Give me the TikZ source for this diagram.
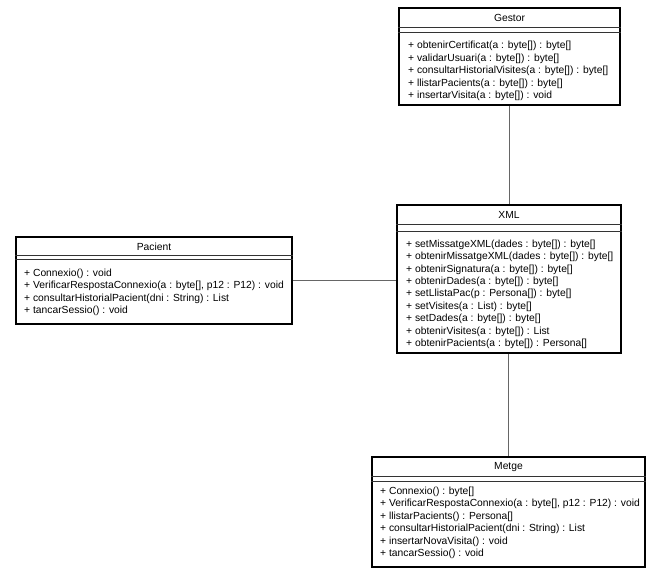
\documentclass[tikz,border=0pt]{standalone}
\usepackage{fontspec}
\setmainfont{Liberation Sans}
\begin{document}
\begin{tikzpicture}[x=1pt,y=-1pt,
  classbox/.style={draw=black,line width=1.6pt,fill=white,inner sep=0pt},
  sepline/.style={draw=black!80,line width=0.7pt},
  assoc/.style={draw=black!60,line width=0.6pt},
  ctitle/.style={inner sep=0pt,font=\fontsize{10.3}{12}\selectfont},
  ops/.style={inner sep=0pt,anchor=base west,align=left,font=\fontsize{10.3}{12.4}\selectfont}]
\useasboundingbox (0,0) rectangle (648,575);
% Gestor
\node[classbox,minimum width=221pt,minimum height=97pt] (gestor) at (509.5,56.5) {};
\draw[sepline] (gestor.west |- 0,27) -- (gestor.east |- 0,27);
\draw[sepline] (gestor.west |- 0,32) -- (gestor.east |- 0,32);
\node[ctitle] (gestorT) at (509.5,18) {Gestor};
\node[ops] (gestorO) at (408,98.5) {+ obtenirCertificat(a : byte[]) : byte[]\\+ validarUsuari(a : byte[]) : byte[]\\+ consultarHistorialVisites(a : byte[]) : byte[]\\+ llistarPacients(a : byte[]) : byte[]\\+ insertarVisita(a : byte[]) : void};
% XML
\node[classbox,minimum width=224pt,minimum height=148pt] (xml) at (509,279) {};
\draw[sepline] (xml.west |- 0,224) -- (xml.east |- 0,224);
\draw[sepline] (xml.west |- 0,231) -- (xml.east |- 0,231);
\node[ctitle] (xmlT) at (509,215) {XML};
\node[ops] (xmlO) at (406,346.5) {+ setMissatgeXML(dades : byte[]) : byte[]\\+ obtenirMissatgeXML(dades : byte[]) : byte[]\\+ obtenirSignatura(a : byte[]) : byte[]\\+ obtenirDades(a : byte[]) : byte[]\\+ setLlistaPac(p : Persona[]) : byte[]\\+ setVisites(a : List) : byte[]\\+ setDades(a : byte[]) : byte[]\\+ obtenirVisites(a : byte[]) : List\\+ obtenirPacients(a : byte[]) : Persona[]};
% Pacient
\node[classbox,minimum width=276pt,minimum height=87pt] (pacient) at (154,280.5) {};
\draw[sepline] (pacient.west |- 0,255) -- (pacient.east |- 0,255);
\draw[sepline] (pacient.west |- 0,259) -- (pacient.east |- 0,259);
\node[ctitle] (pacientT) at (154,247) {Pacient};
\node[ops] (pacientO) at (24,313.5) {+ Connexio() : void\\+ VerificarRespostaConnexio(a : byte[], p12 : P12) : void\\+ consultarHistorialPacient(dni : String) : List\\+ tancarSessio() : void};
% Metge
\node[classbox,minimum width=273pt,minimum height=110pt] (metge) at (508.5,512) {};
\draw[sepline] (metge.west |- 0,476) -- (metge.east |- 0,476);
\draw[sepline] (metge.west |- 0,481) -- (metge.east |- 0,481);
\node[ctitle] (metgeT) at (508.5,467) {Metge};
\node[ops] (metgeO) at (380,556.5) {+ Connexio() : byte[]\\+ VerificarRespostaConnexio(a : byte[], p12 : P12) : void\\+ llistarPacients() : Persona[]\\+ consultarHistorialPacient(dni : String) : List\\+ insertarNovaVisita() : void\\+ tancarSessio() : void};
% associations
\draw[assoc] (gestor.south) -- (gestor.south |- xml.north);
\draw[assoc] (pacient.east) -- (pacient.east -| xml.west);
\draw[assoc] (xml.south -| metge.north) -- (metge.north);
\end{tikzpicture}
\end{document}
